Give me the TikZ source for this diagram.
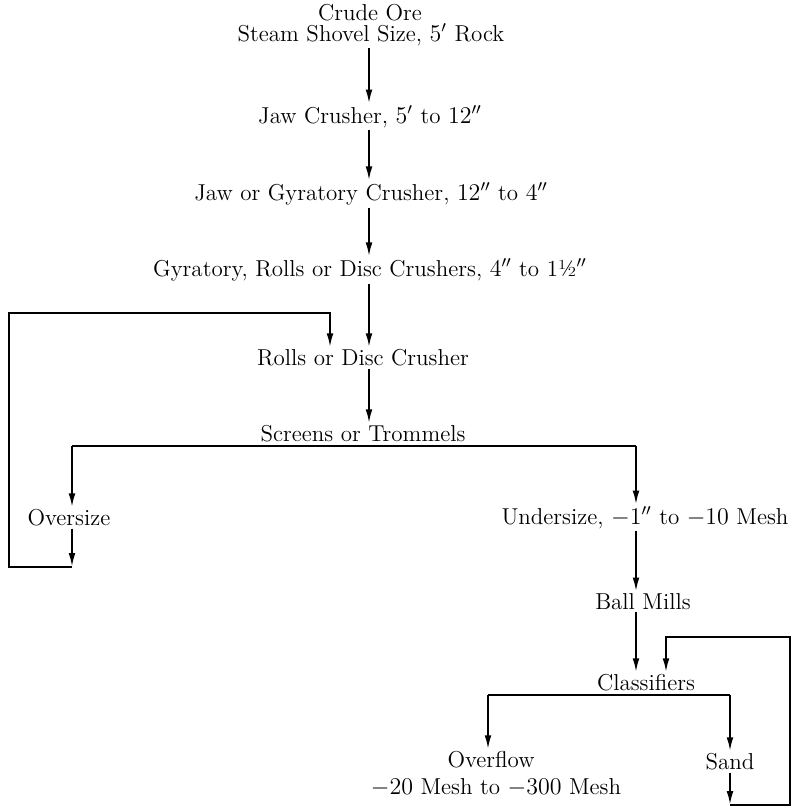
\documentclass[tikz,border=0pt]{standalone}
\usetikzlibrary{arrows.meta, positioning}

\begin{document}
\begin{tikzpicture}[
  x=0.5pt, y=-0.5pt,
  lbl/.style={inner sep=1pt, font=\fontsize{11.5}{13}\selectfont},
  arr/.style={-{Latex[length=7pt,width=3.4pt]}, line width=1pt},
  pipe/.style={line width=1pt},
]
  \useasboundingbox (0,0) rectangle (808,806);

  % main crushing column
  \node[lbl] (ore)     at (370,13)  {Crude Ore};
  \node[lbl] (steam)   at (371,35)  {Steam Shovel Size, $5'$ Rock};
  \node[lbl] (jaw)     at (370,117) {Jaw Crusher, $5'$ to $12''$};
  \node[lbl] (gyr1)    at (371,194) {Jaw or Gyratory Crusher, $12''$ to $4''$};
  \node[lbl] (gyr2)    at (370,270) {Gyratory, Rolls or Disc Crushers, $4''$ to 1½$''$};
  \node[lbl] (rolls)   at (363,358) {Rolls or Disc Crusher};
  \node[lbl] (screens) at (363,434) {Screens or Trommels};
  \node[lbl] (over)    at (69,518)  {Oversize};
  \node[lbl] (under)   at (645,518) {Undersize, $-1''$ to $-10$ Mesh};
  \node[lbl] (ball)    at (643,602) {Ball Mills};
  \node[lbl] (class)   at (646,683) {Classifiers};
  \node[lbl] (overflow) at (491,760) {Overflow};
  \node[lbl] (mesh)    at (496,788) {$-20$ Mesh to $-300$ Mesh};
  \node[lbl] (sand)    at (730,762) {Sand};

  \coordinate (colA) at (369,0);
  \coordinate (colB) at (636,0);

  \draw[arr] (steam.south -| colA) -- (jaw.north -| colA);
  \draw[arr] (jaw.south -| colA) -- (gyr1.north -| colA);
  \draw[arr] (gyr1.south -| colA) -- (gyr2.north -| colA);
  \draw[arr] (gyr2.south -| colA) -- (rolls.north -| colA);
  \draw[arr] (rolls.south -| colA) -- (screens.north -| colA);

  % screens split
  \coordinate (splitL) at (72,446);
  \coordinate (splitR) at (636,446);
  \draw[pipe] (splitL) -- (splitR);
  \draw[arr] (splitL) -- (over.north -| splitL);
  \draw[arr] (splitR) -- (under.north -| splitR);

  % oversize back to rolls
  \coordinate (ovlow) at (72,567);
  \coordinate (retBL) at (9,567);
  \coordinate (retTL) at (9,313);
  \coordinate (retTR) at (330,313);
  \draw[arr] (over.south -| ovlow) -- (ovlow);
  \draw[arr] (ovlow) -- (retBL) -- (retTL) -- (retTR) -- (rolls.north -| retTR);

  \draw[arr] (under.south -| colB) -- (ball.north -| colB);
  \draw[arr] (ball.south -| colB) -- (class.north -| colB);

  % classifier split
  \coordinate (clsL) at (488,695);
  \coordinate (clsR) at (730,695);
  \draw[pipe] (clsL) -- (clsR);
  \draw[arr] (clsL) -- (overflow.north -| clsL);
  \draw[arr] (clsR) -- (sand.north -| clsR);

  % sand back to classifiers
  \coordinate (sandlow) at (730,805);
  \coordinate (retBR) at (790,805);
  \coordinate (retTR2) at (790,637);
  \coordinate (retTC) at (666,637);
  \draw[arr] (sand.south -| sandlow) -- (sandlow);
  \draw[arr] (sandlow) -- (retBR) -- (retTR2) -- (retTC) -- (class.north -| retTC);
\end{tikzpicture}
\end{document}
